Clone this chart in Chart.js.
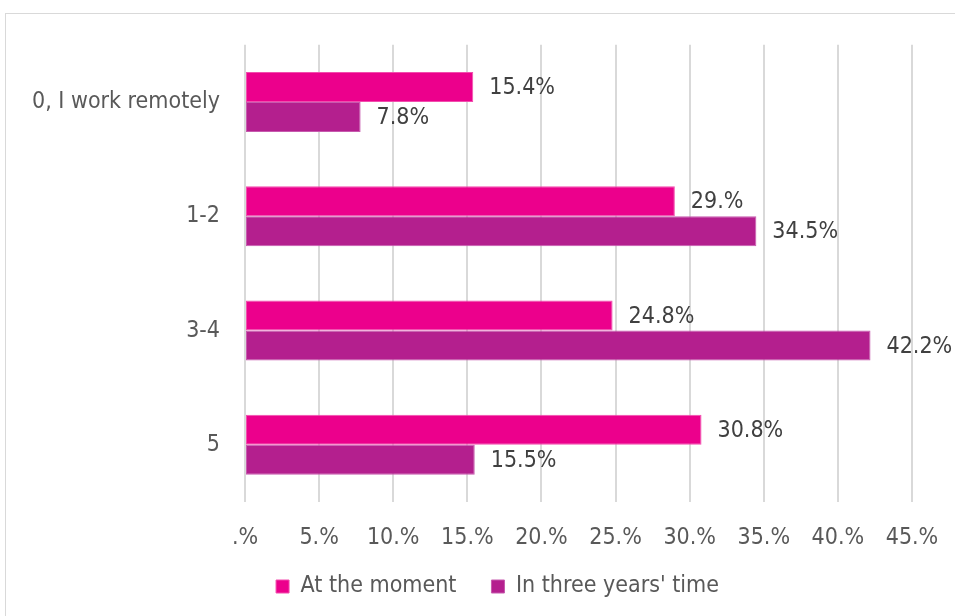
<!DOCTYPE html>
<html>
<head>
<meta charset="utf-8">
<script src="https://cdn.jsdelivr.net/npm/chart.js@4"></script>
<style>
  html, body { margin: 0; padding: 0; background: #fff; overflow: hidden; }
  #box {
    position: absolute; left: 5px; top: 13px;
    width: 985px; height: 605px;
    border: 1px solid #d9d9d9; box-sizing: border-box;
  }
</style>
</head>
<body>
<div id="box"><canvas id="remoteChart"></canvas></div>
<script>
const FONT = "'DejaVu Sans Condensed', 'DejaVu Sans', sans-serif";

// chart data
const categories = ['0, I work remotely', '1-2', '3-4', '5'];
const atTheMoment = [15.4, 29.0, 24.8, 30.8];
const inThreeYears = [7.8, 34.5, 42.2, 15.5];
const seriesNames = ['At the moment', "In three years' time"];

// Excel-style odd format: 29.0 -> "29.%", 0 -> ".%"
function fmtPct(v) {
    let s = Number(v).toFixed(1);
    s = s.replace(/\.0$/, '.').replace(/^0\./, '.');
    return s + '%';
}

// simple value labels at the end of each bar
const barLabels = {
    id: 'barLabels',
    afterDatasetsDraw(chart) {
        const ctx = chart.ctx;
        ctx.save();
        ctx.font = '23px ' + FONT;
        ctx.fillStyle = '#404040';
        ctx.textAlign = 'left';
        ctx.textBaseline = 'middle';
        chart.data.datasets.forEach((ds, i) => {
            chart.getDatasetMeta(i).data.forEach((bar, j) => {
                ctx.fillText(fmtPct(ds.data[j]), bar.x + 16, bar.y + 1);
            });
        });
        ctx.restore();
    }
};

// center the legend on the whole canvas and pull it up a bit
// (the wide label padding would otherwise eat into the plot height)
const placeLegend = {
    id: 'placeLegend',
    afterLayout(chart) {
        const lg = chart.legend;
        if (!lg) return;
        lg.left = 0;
        lg.right = chart.width;
        lg.top = chart.height - 77;
        lg.bottom = chart.height;
        lg.height = lg.bottom - lg.top;
    }
};

const ctx = document.getElementById('remoteChart').getContext('2d');
new Chart(ctx, {
    type: 'bar',
    data: {
        labels: categories,
        datasets: [{
            label: seriesNames[0],
            data: atTheMoment,
            backgroundColor: '#EC008C',
            borderColor: '#F24DAE',
            borderWidth: 1,
            borderSkipped: false
        }, {
            label: seriesNames[1],
            data: inThreeYears,
            backgroundColor: '#B41F8E',
            borderColor: '#C65AAE',
            borderWidth: 1,
            borderSkipped: false
        }]
    },
    options: {
        indexAxis: 'y',
        responsive: true,
        maintainAspectRatio: false,
        animation: false,
        layout: { padding: { top: 20, right: 77, bottom: 6, left: 0 } },
        datasets: {
            bar: { categoryPercentage: 0.525, barPercentage: 1.0 }
        },
        scales: {
            x: {
                min: 0,
                max: 45,
                ticks: {
                    stepSize: 5,
                    padding: 22,
                    color: '#595959',
                    font: { family: FONT, size: 23 },
                    callback: v => fmtPct(v)
                },
                grid: { color: '#d9d9d9', lineWidth: 2, drawTicks: false },
                border: { display: false },
                afterFit: scale => { scale.height = 65; }
            },
            y: {
                ticks: {
                    padding: 17,
                    color: '#595959',
                    font: { family: FONT, size: 23 }
                },
                grid: { display: false },
                border: { display: false },
                afterFit: scale => { scale.width = 239; }
            }
        },
        plugins: {
            legend: {
                position: 'bottom',
                maxHeight: 44,
                labels: {
                    color: '#595959',
                    font: { family: FONT, size: 23 },
                    boxWidth: 13,
                    boxHeight: 13,
                    padding: 35
                }
            },
            tooltip: { enabled: false }
        }
    },
    plugins: [barLabels, placeLegend]
});
</script>
</body>
</html>
